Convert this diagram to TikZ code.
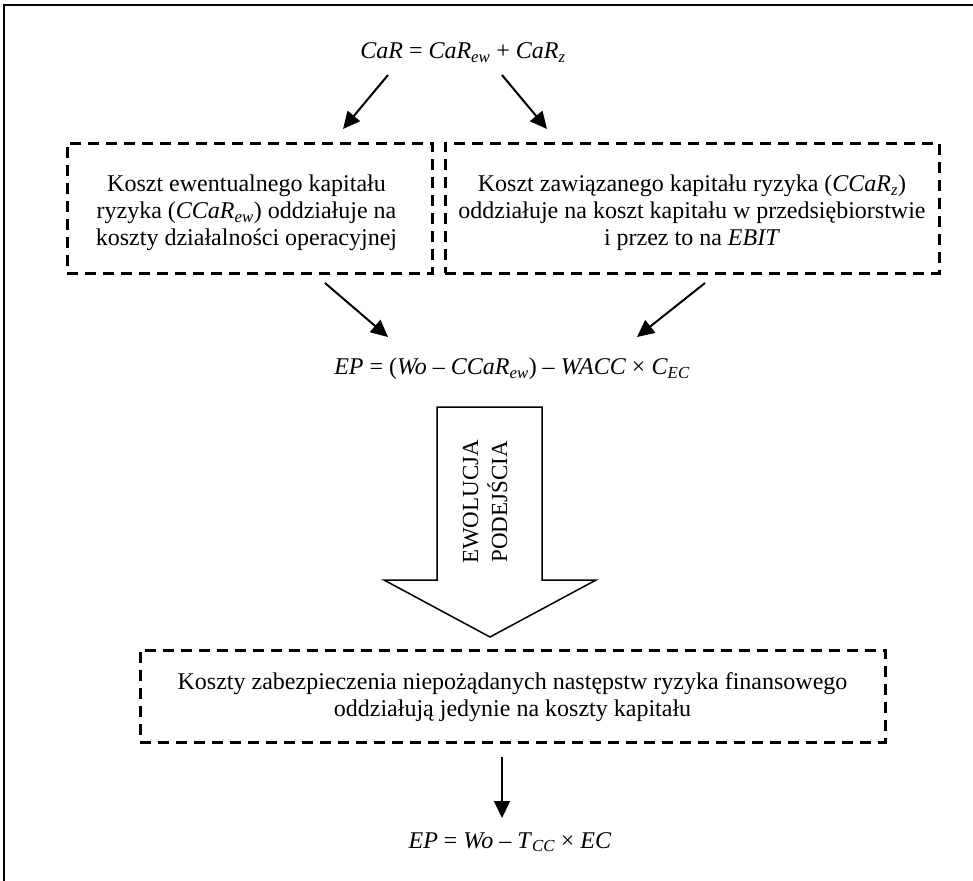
\documentclass[tikz,border=0pt]{standalone}
\usepackage{fontspec}
\setmainfont{Liberation Serif}
\usetikzlibrary{arrows.meta,calc}
\newcommand{\sbs}[1]{\textsubscript{\itshape #1}}
\tikzset{
  dbox/.style={draw, line width=3pt, dash pattern=on 11pt off 7pt, inner sep=0pt},
  txt/.style={align=center, inner sep=0pt},
  arr/.style={line width=2pt, -{Triangle[length=17pt,width=16pt]}},
  bigarr/.style={line width=1.5pt, fill=white},
  frame/.style={line width=2.5pt}
}
\begin{document}
\begin{tikzpicture}[x=1pt,y=-1pt,font=\fontsize{24}{27}\selectfont]
\useasboundingbox (0,0) rectangle (973,880);
\clip (0,0) rectangle (973,880);
\fill[white] (0,0) rectangle (973,880);
\draw[frame] (4,5) rectangle (1100,1000);

\node[txt] (f1) at (463,53) {\textit{CaR} = \textit{CaR}\sbs{ew} + \textit{CaR}\sbs{z}};

\node[dbox, minimum width=365pt, minimum height=130pt] (boxL) at (249.5,208) {};
\node[txt] (tL) at ($(boxL.center)+(-3,5)$) {Koszt ewentualnego kapitału\\ryzyka (\textit{CCaR}\sbs{ew}) oddziałuje na\\koszty działalności operacyjnej};

\node[dbox, minimum width=494pt, minimum height=130pt] (boxR) at (692,208) {};
\node[txt] (tR) at ($(boxR.center)+(0,5)$) {Koszt zawiązanego kapitału ryzyka (\textit{CCaR}\sbs{z})\\oddziałuje na koszt kapitału w przedsiębiorstwie\\i przez to na \textit{EBIT}};

\node[txt] (f2) at (512,369) {\textit{EP} = (\textit{Wo} – \textit{CCaR}\sbs{ew}) – \textit{WACC} × \textit{C}\sbs{EC}};

\coordinate (a1s) at (388,75);
\coordinate (a1e) at (343,129);
\coordinate (a2s) at (502,75);
\coordinate (a2e) at (547,129);
\draw[arr] (a1s) -- (a1e);
\draw[arr] (a2s) -- (a2e);

\coordinate (a3s) at (325,283);
\coordinate (a3e) at (388,337);
\coordinate (a4s) at (705,283);
\coordinate (a4e) at (637,337);
\draw[arr] (a3s) -- (a3e);
\draw[arr] (a4s) -- (a4e);

\draw[bigarr] (437,407) -- (542,407) -- (542,580) -- (596,580) -- (490,637) -- (384,580) -- (437,580) -- cycle;
\node[txt, rotate=90, font=\fontsize{23}{29}\selectfont] (evo) at (485,502) {EWOLUCJA\\PODEJŚCIA};

\node[dbox, minimum width=745pt, minimum height=92pt] (boxB) at (512.5,696) {};
\node[txt] (tB) at ($(boxB.center)+(0,1)$) {Koszty zabezpieczenia niepożądanych następstw ryzyka finansowego\\oddziałują jedynie na koszty kapitału};

\node[txt] (f3) at (510,842) {\textit{EP} = \textit{Wo} – \textit{T}\sbs{CC} × \textit{EC}};

\coordinate (a5s) at (502,757);
\coordinate (a5e) at (502,818);
\draw[arr] (a5s) -- (a5e);
\end{tikzpicture}
\end{document}
